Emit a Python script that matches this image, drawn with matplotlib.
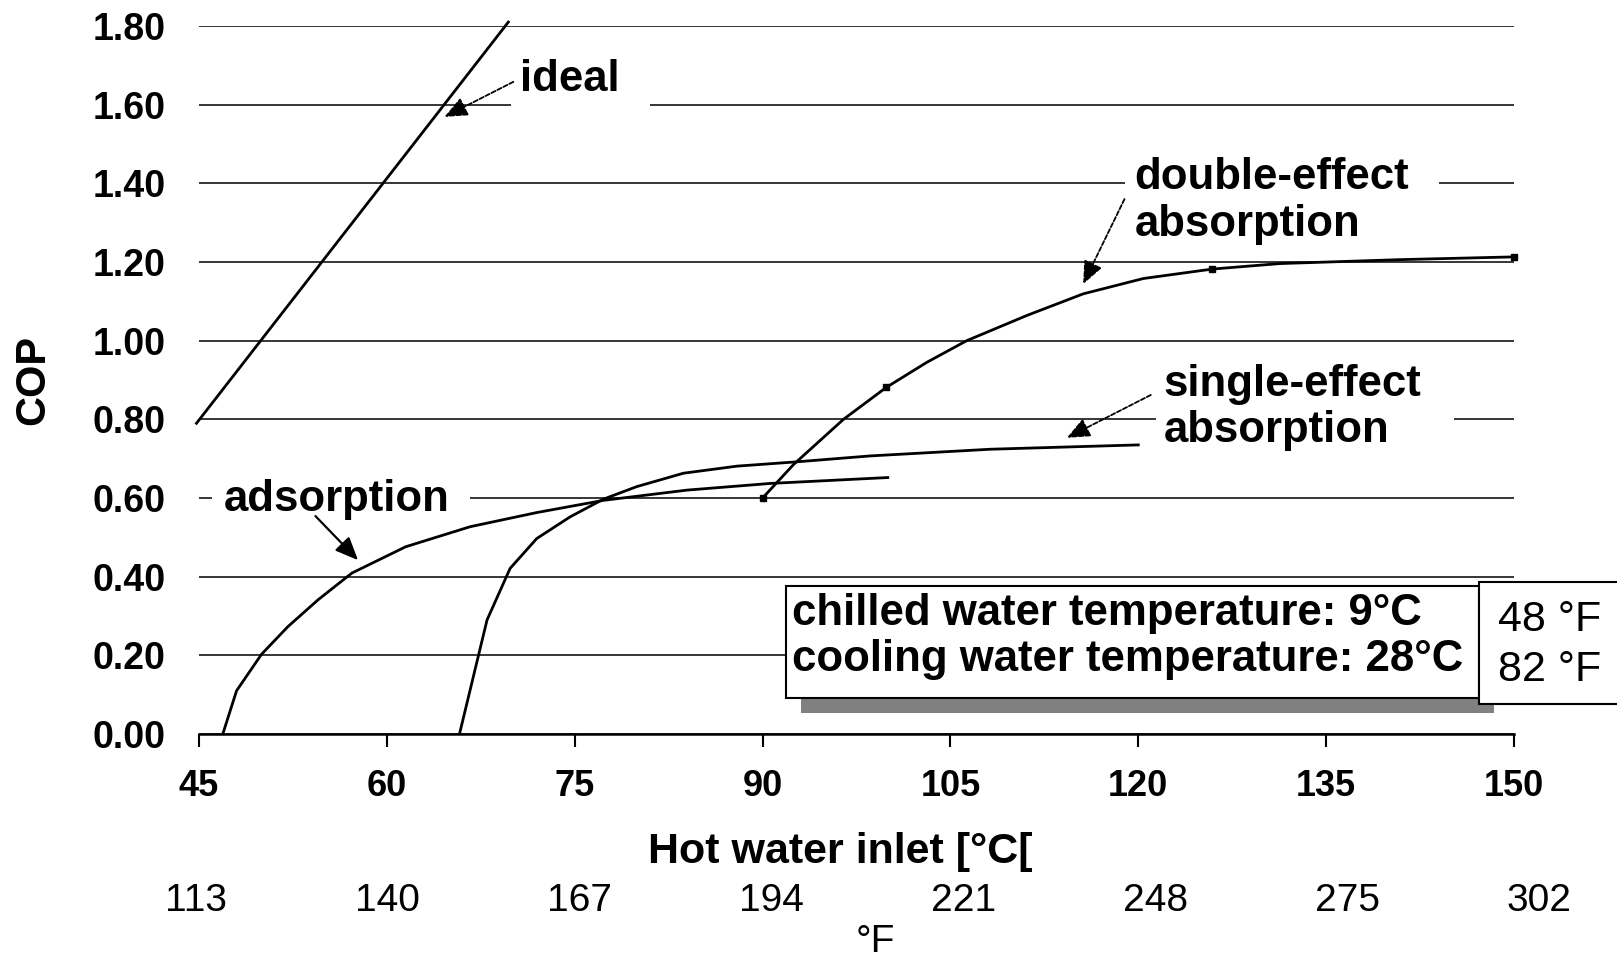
import numpy as np
import matplotlib
matplotlib.use("Agg")
import matplotlib.pyplot as plt
from matplotlib.patches import Rectangle
from matplotlib.transforms import blended_transform_factory

plt.rcParams['font.family'] = ['Liberation Sans', 'DejaVu Sans']

# ---------------- data ----------------
ideal_x = [44.8, 69.7]
ideal_y = [0.79, 1.81]

ads_x = [46.9, 48.0, 50.0, 52.1, 54.5, 57.2, 61.5, 66.65, 71.97, 77.29, 83.95, 90.6, 100.0]
ads_y = [0.00, 0.11, 0.203, 0.273, 0.341, 0.409, 0.476, 0.527, 0.563, 0.594, 0.620, 0.637, 0.652]

single_x = [65.8, 68.0, 69.84, 71.97, 74.63, 77.29, 79.96, 83.68, 87.95, 92.74, 98.6, 108.2, 120.0]
single_y = [0.00, 0.29, 0.421, 0.497, 0.552, 0.597, 0.629, 0.663, 0.681, 0.692, 0.707, 0.724, 0.735]

double_x = [90.0, 92.47, 96.46, 99.87, 103.12, 106.3, 111.1, 115.6, 120.4, 125.9, 131.3, 140.9, 150.0]
double_y = [0.60, 0.685, 0.80, 0.881, 0.945, 1.0, 1.064, 1.119, 1.158, 1.182, 1.196, 1.206, 1.213]
double_mark_x = [90.0, 99.87, 125.9, 150.0]
double_mark_y = [0.60, 0.881, 1.182, 1.213]

xticks_c = [45, 60, 75, 90, 105, 120, 135, 150]
yticks = [0.0, 0.2, 0.4, 0.6, 0.8, 1.0, 1.2, 1.4, 1.6, 1.8]
f_labels = ['113', '140', '167', '194', '221', '248', '275', '302']

W, H = 1617, 963
fig = plt.figure(figsize=(W / 100, H / 100), dpi=100)
ax = fig.add_axes([199 / W, 1 - 734 / H, (1514 - 199) / W, (734 - 26) / H])
ax.set_xlim(45, 150)
ax.set_ylim(0, 1.8)

for s in ['top', 'right', 'left']:
    ax.spines[s].set_visible(False)
ax.spines['bottom'].set_linewidth(1.8)
ax.spines['bottom'].set_zorder(2.5)

ax.set_yticks(yticks)
ax.set_yticklabels([f'{v:.2f}' for v in yticks], fontsize=27, fontweight='bold')
ax.tick_params(axis='y', length=0, pad=24)
ax.set_xticks(xticks_c)
ax.set_xticklabels([str(v) for v in xticks_c], fontsize=26, fontweight='bold')
ax.tick_params(axis='x', direction='out', length=9, width=1.5, pad=16)

ax.set_axisbelow(True)
ax.yaxis.grid(True, color='black', linewidth=1.1)

# white areas behind labels (hide gridlines)
gaps = [(69.9, 81.0, 1.6), (118.9, 144.0, 1.4), (121.4, 145.2, 0.8), (46.0, 66.6, 0.6)]
for x0, x1, yv in gaps:
    ax.add_patch(Rectangle((x0, yv - 0.02), x1 - x0, 0.04, facecolor='white',
                           edgecolor='none', zorder=1))

lw = 2.0
ax.plot(ideal_x, ideal_y, color='black', lw=lw, zorder=3, clip_on=False)
ax.plot(ads_x, ads_y, color='black', lw=lw, zorder=3)
ax.plot(single_x, single_y, color='black', lw=lw, zorder=3)
ax.plot(double_x, double_y, color='black', lw=lw, zorder=3)
ax.plot(double_mark_x, double_mark_y, ls='none', marker='s', ms=4.5,
        color='black', zorder=4, clip_on=False)

# labels
lab_kw = dict(fontsize=31.5, fontweight='bold', ha='left', va='center', zorder=5,
              linespacing=1.16)
ax.text(70.6, 1.665, 'ideal', **lab_kw)
ax.text(119.7, 1.355, 'double-effect\nabsorption', **lab_kw)
ax.text(122.0, 0.830, 'single-effect\nabsorption', **lab_kw)
ax.text(47.0, 0.595, 'adsorption', **lab_kw)

dash_arrow = dict(arrowstyle='-|>,head_length=0.7,head_width=0.3', color='black',
                  lw=1.3, linestyle=(0, (2.5, 1.2)), shrinkA=0, shrinkB=0,
                  mutation_scale=20)
solid_arrow = dict(arrowstyle='-|>,head_length=0.7,head_width=0.3', color='black',
                   lw=1.6, shrinkA=0, shrinkB=0, mutation_scale=20)
ax.annotate('', xy=(64.6, 1.569), xytext=(70.1, 1.658), arrowprops=dash_arrow, zorder=5)
ax.annotate('', xy=(115.6, 1.144), xytext=(118.9, 1.360), arrowprops=dash_arrow, zorder=5)
ax.annotate('', xy=(114.3, 0.753), xytext=(121.0, 0.862), arrowprops=dash_arrow, zorder=5)
ax.annotate('', xy=(57.7, 0.442), xytext=(54.3, 0.554), arrowprops=solid_arrow, zorder=5)

# axis titles
fig.text(33 / W, 1 - 380 / H, 'COP', rotation=90, fontsize=30, fontweight='bold',
         ha='center', va='center')
fig.text(840 / W, 1 - 852 / H, 'Hot water inlet [°C[', fontsize=31, fontweight='bold',
         ha='center', va='center')

# Fahrenheit labels
tr = blended_transform_factory(ax.transData, fig.transFigure)
f_pos = np.linspace(44.76, 152.0, len(f_labels))
for xp, lab in zip(f_pos, f_labels):
    ax.text(xp, 1 - 901 / H, lab, transform=tr, fontsize=28, ha='center', va='center',
            clip_on=False)
ax.text(99.0, 1 - 942 / H, '°F', transform=tr, fontsize=28, ha='center', va='center',
        clip_on=False)

# condition boxes
def frect(x0, y0, x1, y1, **kw):
    r = Rectangle((x0 / W, 1 - y1 / H), (x1 - x0) / W, (y1 - y0) / H,
                  transform=fig.transFigure, **kw)
    fig.add_artist(r)

frect(801, 601, 1494, 713, facecolor='#808080', edgecolor='none', zorder=5)
frect(786, 586, 1479, 698, facecolor='white', edgecolor='black', lw=1.5, zorder=6)
frect(1479, 582, 1640, 704, facecolor='white', edgecolor='black', lw=1.5, zorder=7)

fig.text(792 / W, 1 - 613 / H, 'chilled water temperature: 9°C', fontsize=31.5,
         fontweight='bold', ha='left', va='center', zorder=8)
fig.text(792 / W, 1 - 660 / H, 'cooling water temperature: 28°C', fontsize=31.5,
         fontweight='bold', ha='left', va='center', zorder=8)
fig.text(1498 / W, 1 - 620 / H, '48 °F', fontsize=31, ha='left', va='center', zorder=8)
fig.text(1498 / W, 1 - 670 / H, '82 °F', fontsize=31, ha='left', va='center', zorder=8)

fig.savefig('out.png', dpi=100)
